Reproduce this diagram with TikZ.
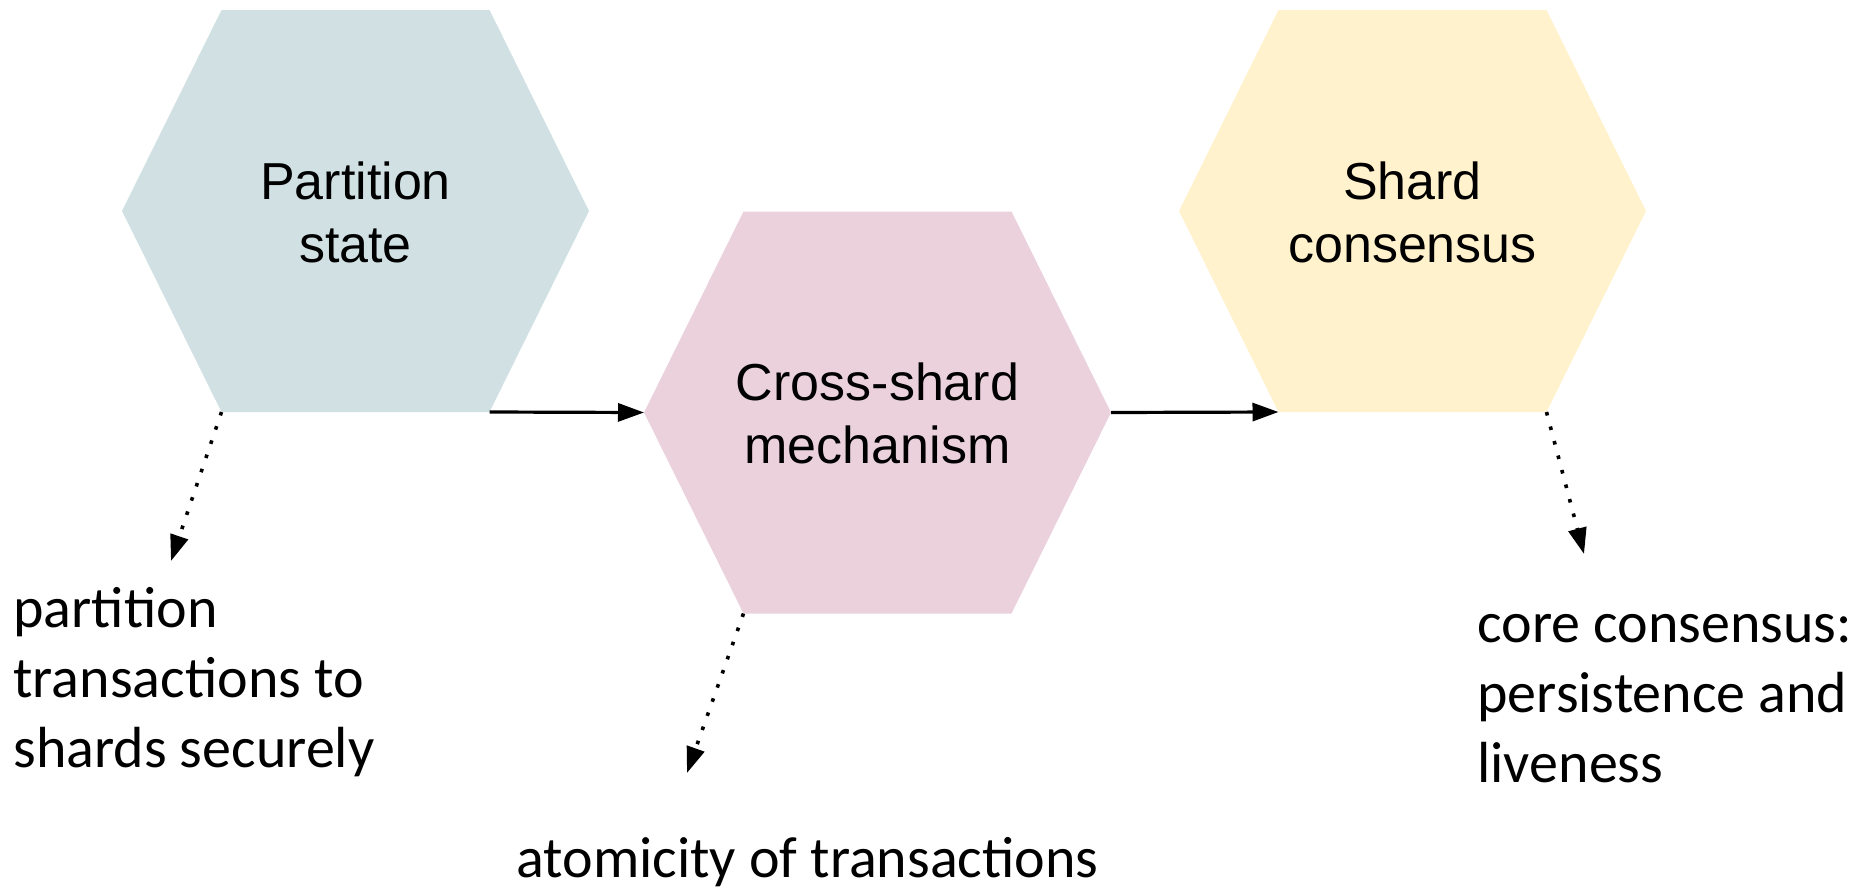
\documentclass[tikz,border=0pt]{standalone}
\usepackage{fontspec}
\setmainfont{Carlito}
\newfontfamily\arialf{Liberation Sans}
\usetikzlibrary{arrows.meta}
\definecolor{hexA}{HTML}{D0E0E3}
\definecolor{hexB}{HTML}{EAD1DC}
\definecolor{hexC}{HTML}{FFF2CC}
\begin{document}
\begin{tikzpicture}[x=0.5pt,y=-0.5pt,
  hexlabel/.style={font=\arialf\fontsize{26}{31.5}\selectfont, anchor=base, inner sep=0pt},
  note/.style={font=\fontsize{29}{35}\selectfont, anchor=base west, inner sep=0pt},
  flow/.style={line width=1.6pt, -{Triangle[length=13pt,width=9pt]}},
  dotflow/.style={line width=1.8pt, dash pattern=on 1.8pt off 5.7pt, -{Triangle[length=13pt,width=9pt]}}]
\useasboundingbox (0,0) rectangle (1874,889);
% hexagon 1
\coordinate (h1l) at (122,211);
\coordinate (h1tl) at (221.5,10);
\coordinate (h1tr) at (489.5,10);
\coordinate (h1r) at (589,211);
\coordinate (h1br) at (489.5,412);
\coordinate (h1bl) at (221.5,412);
% hexagon 2
\coordinate (h2l) at (644,412.5);
\coordinate (h2tl) at (743.5,211.5);
\coordinate (h2tr) at (1011.5,211.5);
\coordinate (h2r) at (1111,412.5);
\coordinate (h2br) at (1011.5,613.5);
\coordinate (h2bl) at (743.5,613.5);
% hexagon 3
\coordinate (h3l) at (1179,211);
\coordinate (h3tl) at (1278.5,10);
\coordinate (h3tr) at (1546.5,10);
\coordinate (h3r) at (1646,211);
\coordinate (h3br) at (1546.5,412);
\coordinate (h3bl) at (1278.5,412);
\fill[hexA] (h1l) -- (h1tl) -- (h1tr) -- (h1r) -- (h1br) -- (h1bl) -- cycle;
\fill[hexB] (h2l) -- (h2tl) -- (h2tr) -- (h2r) -- (h2br) -- (h2bl) -- cycle;
\fill[hexC] (h3l) -- (h3tl) -- (h3tr) -- (h3r) -- (h3br) -- (h3bl) -- cycle;
\node[hexlabel] (t1) at (355.5,199) {\begin{tabular}[t]{@{}c@{}}Partition\\state\end{tabular}};
\node[hexlabel] (t2) at (877.5,400.5) {\begin{tabular}[t]{@{}c@{}}Cross-shard\\mechanism\end{tabular}};
\node[hexlabel] (t3) at (1412.5,199) {\begin{tabular}[t]{@{}c@{}}Shard\\consensus\end{tabular}};
% notes
\node[note] (n1) at (13,627) {\begin{tabular}[t]{@{}l@{}}partition\\transactions to\\shards securely\end{tabular}};
\node[note] (n2) at (516,877) {atomicity of transactions};
\node[note] (n3) at (1477,642) {\begin{tabular}[t]{@{}l@{}}core consensus:\\persistence and\\liveness\end{tabular}};
% connectors
\draw[flow] (h1br) -- (h2l);
\draw[flow] (h2r) -- (h3bl);
\coordinate (d1) at (171,561);
\coordinate (d2) at (687,773);
\coordinate (d3) at (1584,554);
\draw[dotflow] (h1bl) -- (d1);
\draw[dotflow] (h2bl) -- (d2);
\draw[dotflow] (h3br) -- (d3);
\end{tikzpicture}
\end{document}
